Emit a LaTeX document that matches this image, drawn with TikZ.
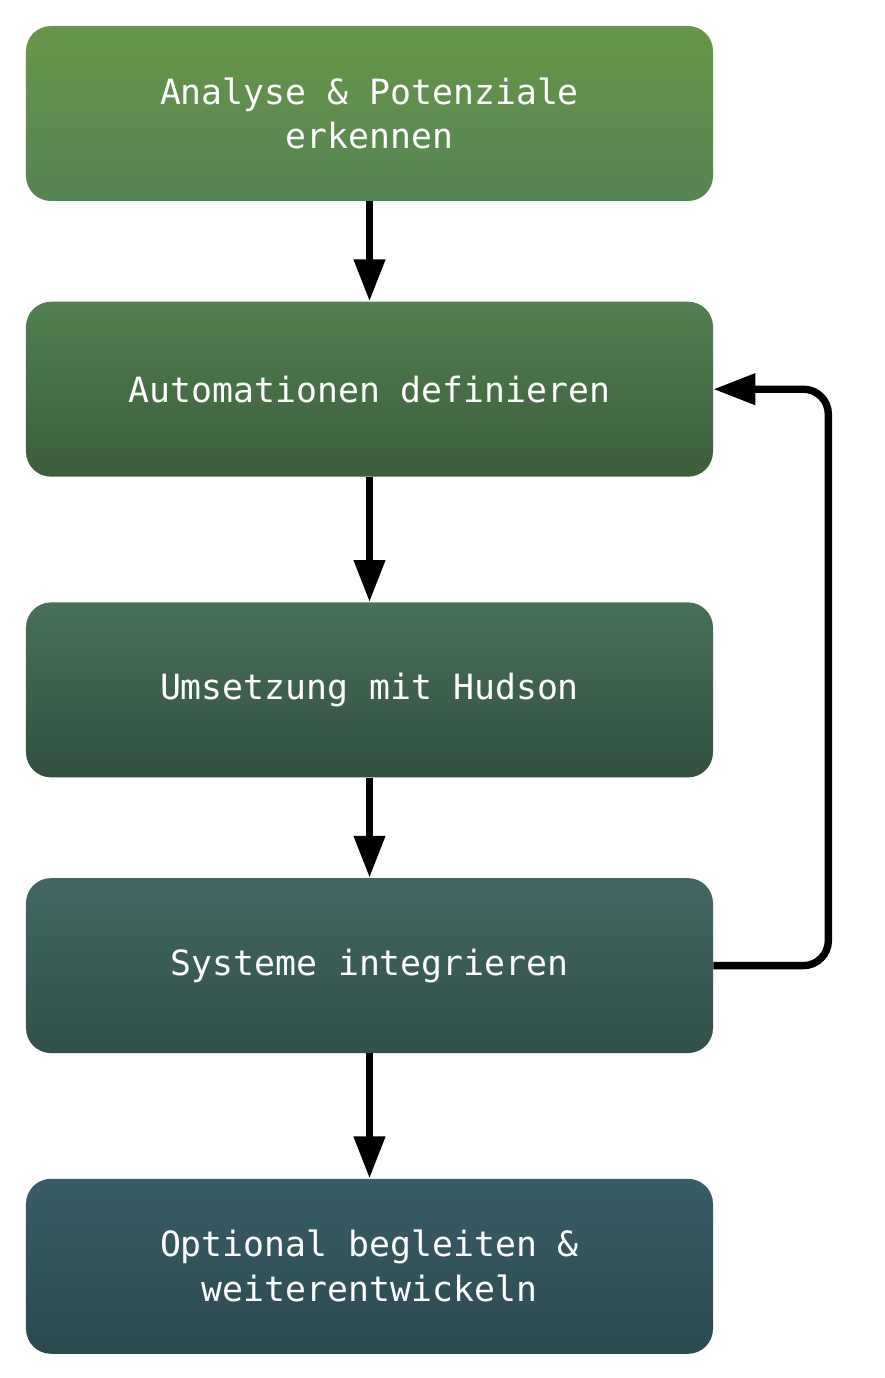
\documentclass[tikz,border=0pt]{standalone}
\usepackage{fontspec}
\setmonofont{DejaVu Sans Mono}
\usetikzlibrary{positioning,arrows.meta}

\definecolor{verdeA}{RGB}{103,150,72}
\definecolor{verdeB}{RGB}{85,132,84}
\definecolor{verdeC}{RGB}{82,128,82}
\definecolor{verdeD}{RGB}{60,93,58}
\definecolor{verdeE}{RGB}{73,112,90}
\definecolor{verdeF}{RGB}{50,80,64}
\definecolor{azulA}{RGB}{66,103,98}
\definecolor{azulB}{RGB}{50,80,74}
\definecolor{azulC}{RGB}{55,93,103}
\definecolor{azulD}{RGB}{45,73,80}

\tikzset{
  paso/.style 2 args={rectangle, rounded corners=0.5cm, minimum width=13.74cm,
    minimum height=3.5cm, align=center, text=white,
    top color=#1, bottom color=#2,
    font=\ttfamily\fontsize{19.8}{25.5}\selectfont},
  flecha/.style={line width=4.2pt, -{Triangle[length=0.84cm,width=0.6cm]}}
}

\begin{document}
\begin{tikzpicture}
  \useasboundingbox (0,0) rectangle (17.7,27.56);

  % Pasos
  \node[paso={verdeA}{verdeB}] (analyse) at (7.39,25.29) {Analyse \& Potenziale\\erkennen};
  \node[paso={verdeC}{verdeD}, below=2.0cm of analyse] (automation) {Automationen definieren};
  \node[paso={verdeE}{verdeF}, below=2.5cm of automation] (umsetzung) {Umsetzung mit Hudson};
  \node[paso={azulA}{azulB}, below=2.0cm of umsetzung] (systeme) {Systeme integrieren};
  \node[paso={azulC}{azulD}, below=2.5cm of systeme] (optional) {Optional begleiten \&\\weiterentwickeln};

  % Flechas
  \draw[flecha] (analyse) -- (automation);
  \draw[flecha] (automation) -- (umsetzung);
  \draw[flecha] (umsetzung) -- (systeme);
  \draw[flecha] (systeme) -- (optional);

  % Retorno
  \draw[flecha, rounded corners=0.5cm] (systeme.east) -- ++(2.3,0) |- (automation.east);
\end{tikzpicture}
\end{document}
